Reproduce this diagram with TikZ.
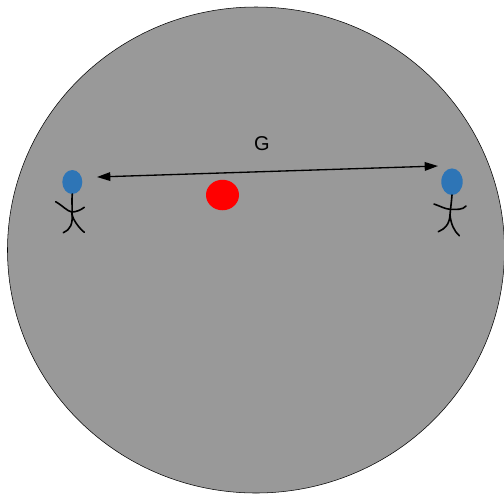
\documentclass[tikz,border=0pt]{standalone}
\usepackage{fontspec}
\setmainfont{Liberation Sans}
\usetikzlibrary{arrows.meta, shapes.geometric}

\begin{document}
\begin{tikzpicture}[
    x=0.75pt, y=-0.75pt,
    every node/.style={inner sep=0pt, outer sep=0pt},
    head/.style={ellipse, fill=c2},
    limb/.style={black, line width=1.2pt, line cap=round},
]

\definecolor{c1}{HTML}{999999}   % the disc
\definecolor{c2}{HTML}{2E75B6}   % the heads
\definecolor{c3}{HTML}{FF0000}   % the mass

\useasboundingbox (0,0) rectangle (504,494);

% ---------------------------------------------------------------- disc
\node[ellipse, draw=black, line width=0.4pt, fill=c1,
    minimum width=497*0.75pt, minimum height=486*0.75pt] (disc) at (256,250) {};

% ---------------------------------------------------------------- mass
\node[ellipse, fill=c3, minimum width=33*0.75pt, minimum height=30.5*0.75pt]
    (mass) at (222.5,195) {};

% ---------------------------------------------------------------- left figure
\node[head, minimum width=20*0.75pt, minimum height=24*0.75pt] (headL) at (72.3,182) {};
\draw[limb] (headL.south) .. controls (71.5,200) and (72.5,208) .. (72,214);
\draw[limb] (55.7,201.7) .. controls (63,206) and (67,211) .. (71.7,212)
    .. controls (76,212) and (81,210) .. (84.3,207.3);
\draw[limb] (72,214) .. controls (73,224) and (70,230) .. (63.3,232.7);
\draw[limb] (72,214) .. controls (73,220) and (79,228) .. (84.3,232.3);

% ---------------------------------------------------------------- right figure
\node[head, minimum width=21.4*0.75pt, minimum height=26.6*0.75pt] (headR) at (452,181.7) {};
\draw[limb] (headR.south) .. controls (451.5,202) and (450.5,208) .. (450,215);
\draw[limb] (434,204) .. controls (440,206) and (445,209) .. (450,209.3)
    .. controls (456,209.5) and (463,210) .. (466,206);
\draw[limb] (450,215) .. controls (449.5,224) and (445,229) .. (438.3,231.7);
\draw[limb] (450,215) .. controls (451,224) and (454,231) .. (459.3,235.7);

% ---------------------------------------------------------------- G
\coordinate (endL) at (97,177);
\coordinate (endR) at (438,166);
\draw[{Triangle[length=10pt, width=6.5pt]}-{Triangle[length=10pt, width=6.5pt]}, line width=1pt]
    (endL) -- (endR);
\node[font=\fontsize{15pt}{18pt}\selectfont] (labelG) at (262,144) {G};

\end{tikzpicture}
\end{document}
